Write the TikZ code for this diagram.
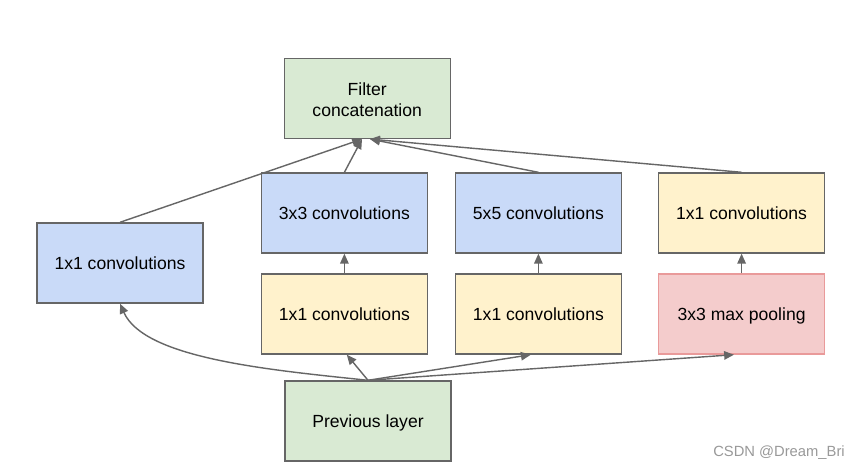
\documentclass[tikz,border=0pt]{standalone}
\usepackage{fontspec}
\setmainfont{Liberation Sans}
\usepackage{tikz}
\usetikzlibrary{arrows.meta}

\definecolor{boxgreen}{HTML}{D9EAD3}
\definecolor{boxblue}{HTML}{C9DAF8}
\definecolor{boxyellow}{HTML}{FFF2CC}
\definecolor{boxred}{HTML}{F4CCCC}
\definecolor{redline}{HTML}{E99A9A}
\definecolor{edgegray}{HTML}{666666}

\begin{document}
\begin{tikzpicture}[
  link/.style={line width=1pt, edgegray, -{Triangle[length=7pt,width=6pt]}},
  layerbox/.style={draw=edgegray, line width=1pt, minimum width=4.15cm, minimum height=2cm,
    align=center, font=\fontsize{12.5}{15}\selectfont, text height=11.5pt, text depth=2.5pt},
  greenbox/.style={layerbox, fill=boxgreen},
  bluebox/.style={layerbox, fill=boxblue},
  yellowbox/.style={layerbox, fill=boxyellow},
  redbox/.style={layerbox, fill=boxred, draw=redline}
]
\fill[white] (0,0) rectangle (21.275,11.8);
\useasboundingbox (0,0) rectangle (21.275,11.8);

% Input and output
\node[greenbox] (prev) at (9.2,1.275) {Previous layer};
\node[greenbox, text height=, text depth=] (filt) at (9.18,9.34) {\rule{0pt}{11.2pt}Filter\\concatenation};

% Four branches
\node[bluebox] (conv1l) at (3.0,5.225) {1x1 convolutions};
\node[yellowbox] (red3) at (8.61,3.95) {1x1 convolutions};
\node[bluebox] (conv3) at (8.61,6.475) {3x3 convolutions};
\node[yellowbox] (red5) at (13.46,3.95) {1x1 convolutions};
\node[bluebox] (conv5) at (13.46,6.475) {5x5 convolutions};
\node[redbox] (pool) at (18.54,3.95) {3x3 max pooling};
\node[yellowbox] (convp) at (18.54,6.475) {1x1 convolutions};

% Previous layer -> branches
\draw[link] (prev.north) .. controls +(174:2.5) and +(-66:1.5) .. (conv1l.south);
\draw[link] (prev.north) -- ([xshift=0.06cm]red3.south);
\draw[link] (prev.north) -- ([xshift=-0.19cm]red5.south);
\draw[link] (prev.north) -- ([xshift=-0.19cm]pool.south);

% Inside the branches
\draw[link] (red3.north) -- (conv3.south);
\draw[link] (red5.north) -- (conv5.south);
\draw[link] (pool.north) -- (convp.south);

% Branches -> concatenation
\draw[link] (conv1l.north) -- ([xshift=-0.13cm]filt.south);
\draw[link] (conv3.north) -- ([xshift=-0.13cm]filt.south);
\draw[link] (conv5.north) -- ([xshift=0.07cm]filt.south);
\draw[link] (convp.north) -- ([xshift=0.07cm]filt.south);

% Watermark
\node[gray!80, font=\fontsize{10.5}{12}\selectfont] (mark) at (19.475,0.475) {CSDN @Dream\_Bri};

\end{tikzpicture}
\end{document}
